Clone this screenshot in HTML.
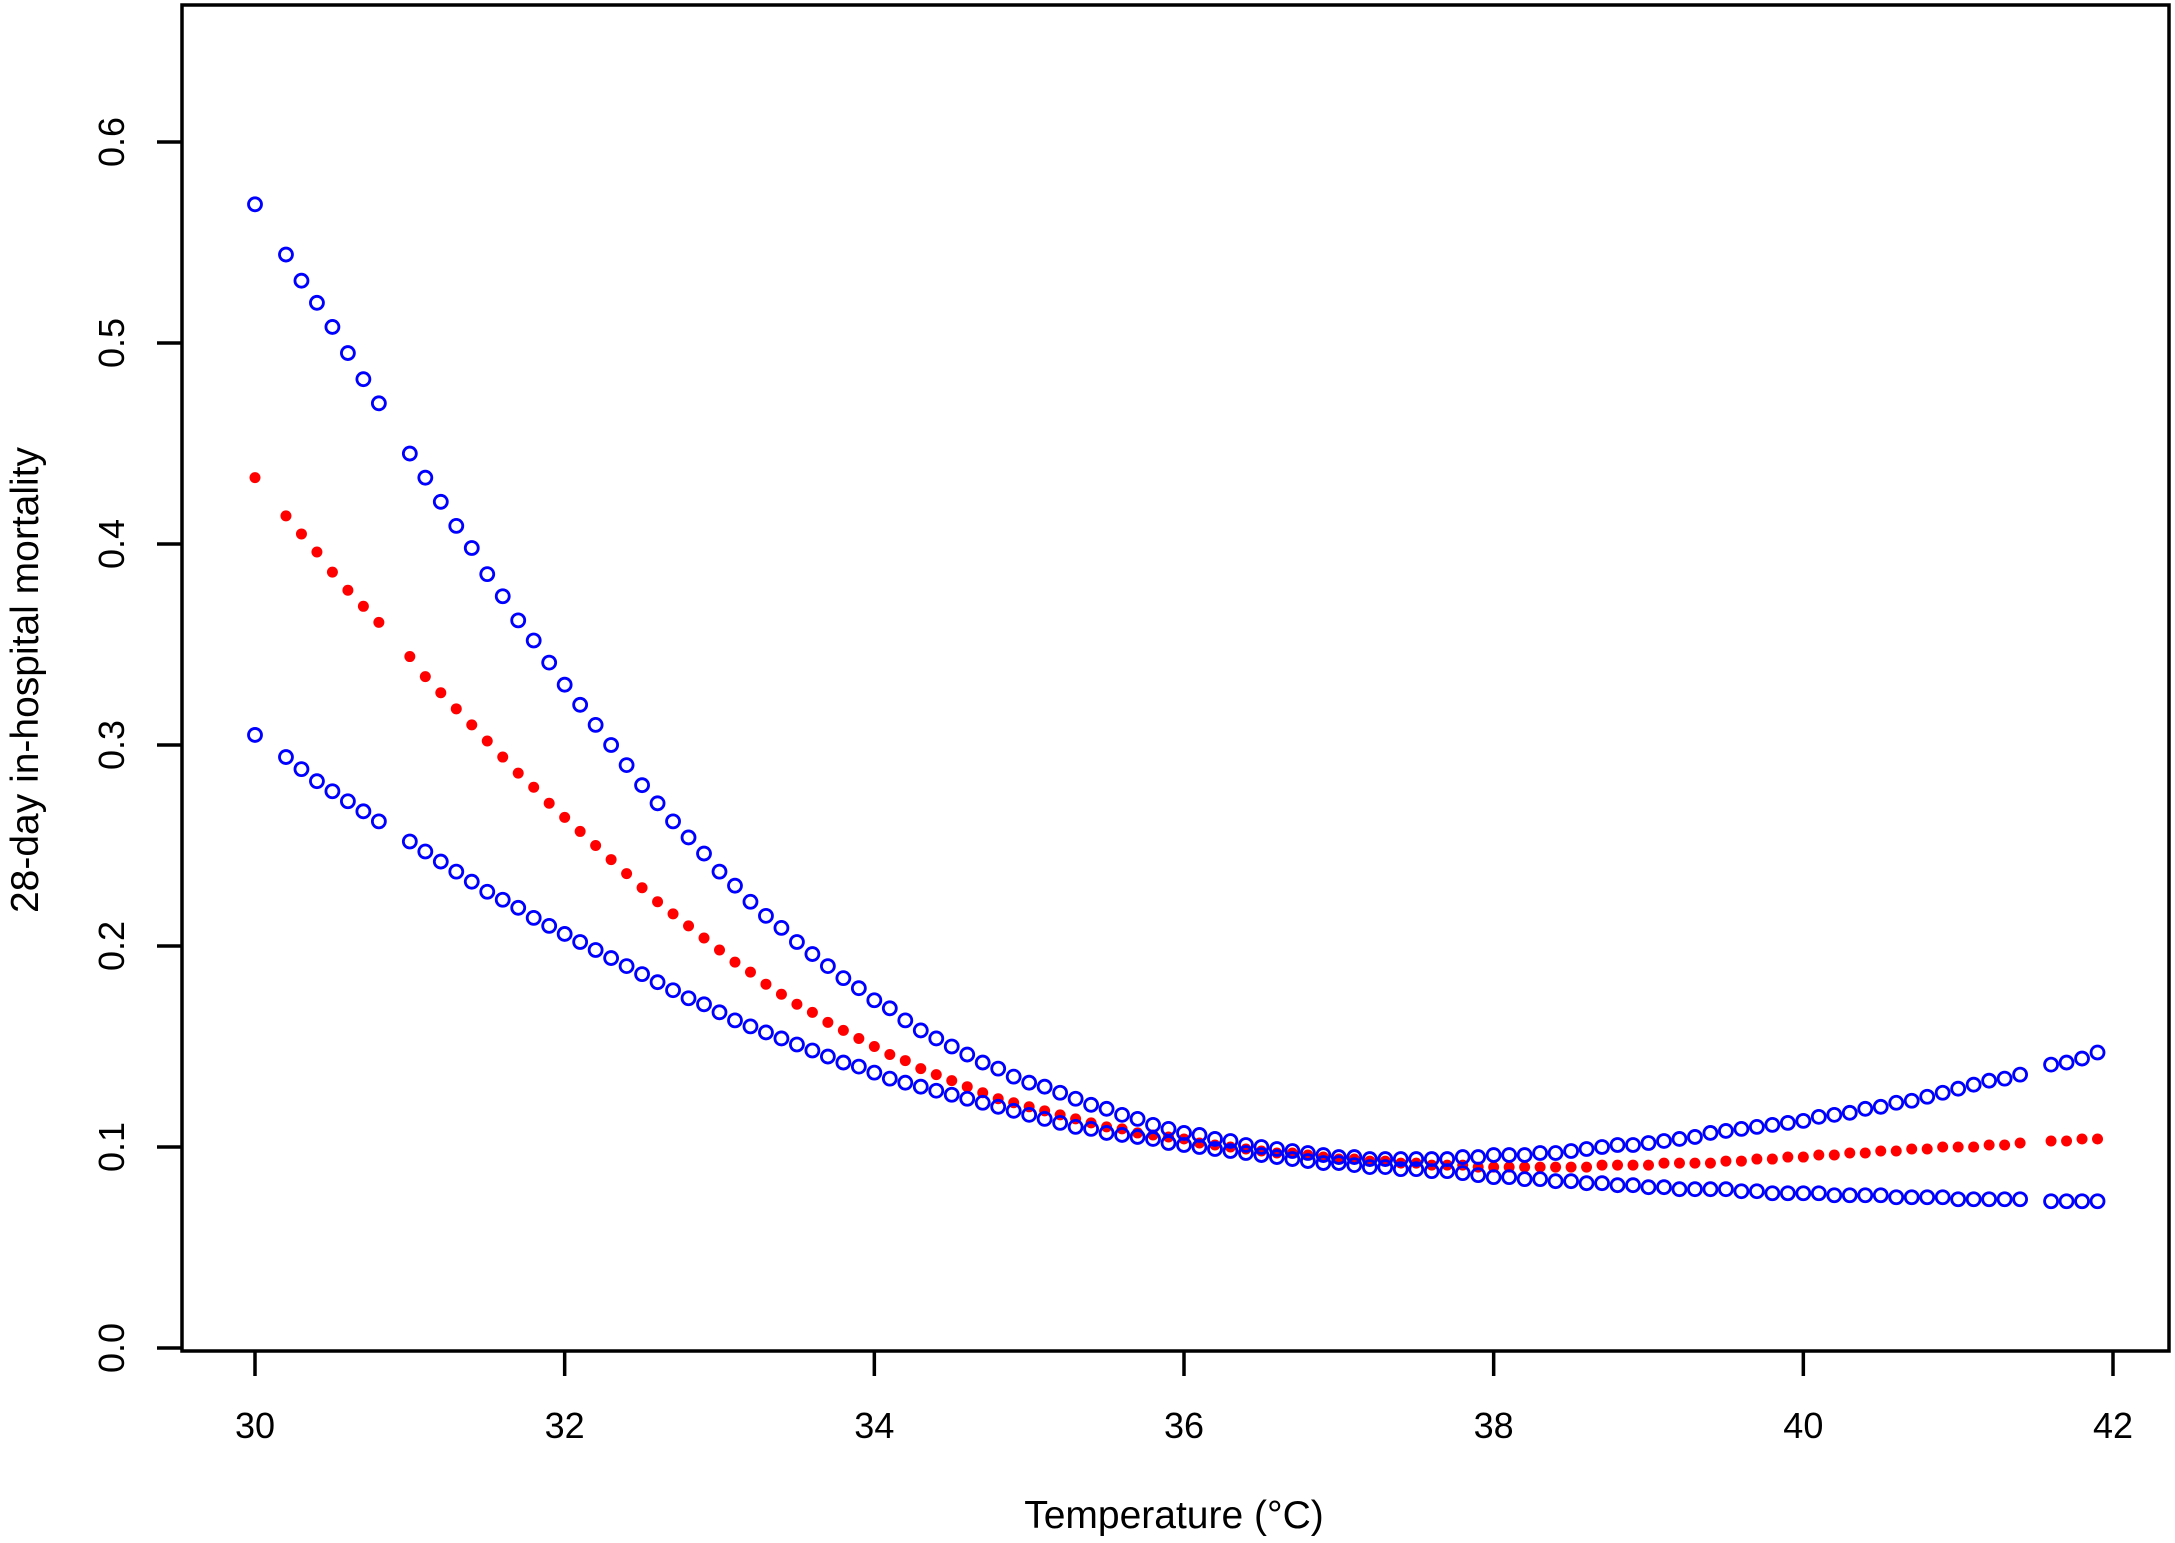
<!DOCTYPE html>
<html><head><meta charset="utf-8"><style>
html,body{margin:0;padding:0;background:#fff;}
svg text{font-family:"Liberation Sans",Arial,sans-serif;}
</style></head><body>
<svg id="chart" width="2175" height="1538" viewBox="0 0 2175 1538" xmlns="http://www.w3.org/2000/svg">
<rect x="182" y="5" width="1987" height="1346" fill="none" stroke="#000" stroke-width="3.5"/>
<g id="marks"></g>
<g id="axes"></g>
<text x="1174" y="1528" font-size="39" text-anchor="middle">Temperature (°C)</text>
<text transform="translate(38,680) rotate(-90)" font-size="39" text-anchor="middle">28-day in-hospital mortality</text>
</svg>
<script>
const xPre = [30,30.2,30.3,30.4,30.5,30.6,30.7,30.8,31.0,31.1,31.2,31.3,31.4,31.5,31.6,31.7,31.8,31.9,32.0,32.1,32.2,32.3,32.4,32.5,32.6,32.7,32.8,32.9];
const xMid = [];
for (let i = 0; i <= 84; i++) xMid.push(+(33 + i * 0.1).toFixed(1));
const xPost = [41.6,41.7,41.8,41.9];
const temps = xPre.concat(xMid, xPost);

const upperCI = [0.569,0.544,0.531,0.520,0.508,0.495,0.482,0.470,
0.445,0.433,0.421,0.409,0.398,0.385,0.374,0.362,0.352,0.341,0.330,0.320,0.310,0.300,0.290,0.280,0.271,0.262,0.254,0.246,
0.237,0.230,0.222,0.215,0.209,0.202,0.196,0.190,0.184,0.179,
0.173,0.169,0.163,0.158,0.154,0.150,0.146,0.142,0.139,0.135,
0.132,0.130,0.127,0.124,0.121,0.119,0.116,0.114,0.111,0.109,
0.107,0.106,0.104,0.103,0.101,0.100,0.099,0.098,0.097,0.096,
0.095,0.095,0.094,0.094,0.094,0.094,0.094,0.094,0.095,0.095,
0.096,0.096,0.096,0.097,0.097,0.098,0.099,0.100,0.101,0.101,
0.102,0.103,0.104,0.105,0.107,0.108,0.109,0.110,0.111,0.112,
0.113,0.115,0.116,0.117,0.119,0.120,0.122,0.123,0.125,0.127,
0.129,0.131,0.133,0.134,0.136,
0.141,0.142,0.144,0.147];

const lowerCI = [0.305,0.294,0.288,0.282,0.277,0.272,0.267,0.262,
0.252,0.247,0.242,0.237,0.232,0.227,0.223,0.219,0.214,0.210,0.206,0.202,0.198,0.194,0.190,0.186,0.182,0.178,0.174,0.171,
0.167,0.163,0.160,0.157,0.154,0.151,0.148,0.145,0.142,0.140,
0.137,0.134,0.132,0.130,0.128,0.126,0.124,0.122,0.120,0.118,
0.116,0.114,0.112,0.110,0.109,0.107,0.106,0.105,0.104,0.102,
0.101,0.100,0.099,0.098,0.097,0.096,0.095,0.094,0.093,0.092,
0.092,0.091,0.090,0.090,0.089,0.089,0.088,0.088,0.087,0.086,
0.085,0.085,0.084,0.084,0.083,0.083,0.082,0.082,0.081,0.081,
0.080,0.080,0.079,0.079,0.079,0.079,0.078,0.078,0.077,0.077,
0.077,0.077,0.076,0.076,0.076,0.076,0.075,0.075,0.075,0.075,
0.074,0.074,0.074,0.074,0.074,
0.073,0.073,0.073,0.073];

const fitted = [0.433,0.414,0.405,0.396,0.386,0.377,0.369,0.361,
0.344,0.334,0.326,0.318,0.310,0.302,0.294,0.286,0.279,0.271,0.264,0.257,0.250,0.243,0.236,0.229,0.222,0.216,0.210,0.204,
0.198,0.192,0.187,0.181,0.176,0.171,0.167,0.162,0.158,0.154,
0.150,0.146,0.143,0.139,0.136,0.133,0.130,0.127,0.124,0.122,
0.120,0.118,0.116,0.114,0.112,0.110,0.109,0.107,0.106,0.105,
0.104,0.102,0.101,0.100,0.099,0.098,0.097,0.097,0.096,0.095,
0.094,0.094,0.093,0.093,0.092,0.092,0.091,0.091,0.091,0.090,
0.090,0.090,0.090,0.090,0.090,0.090,0.090,0.091,0.091,0.091,
0.091,0.092,0.092,0.092,0.092,0.093,0.093,0.094,0.094,0.095,
0.095,0.096,0.096,0.097,0.097,0.098,0.098,0.099,0.099,0.100,
0.100,0.100,0.101,0.101,0.102,
0.103,0.103,0.104,0.104];

const xTicks = [30,32,34,36,38,40,42];
const yTicks = [0.0,0.1,0.2,0.3,0.4,0.5,0.6];
const yTickLabels = ["0.0","0.1","0.2","0.3","0.4","0.5","0.6"];

const NS = "http://www.w3.org/2000/svg";
function xScale(v){ return 255 + (v - 30) * (2113 - 255) / 12; }
function yScale(v){ return 1348 - v * (1348 - 142) / 0.6; }
function mk(tag, attrs, parent){
  const e = document.createElementNS(NS, tag);
  for (const k in attrs) e.setAttribute(k, attrs[k]);
  parent.appendChild(e);
  return e;
}
const marks = document.getElementById('marks');
const axes = document.getElementById('axes');

fitted.forEach((v, i) => {
  const c = mk('circle', {cx: xScale(temps[i]), cy: yScale(v), r: 5.5, fill: '#ff0000'}, marks);
  
  
});
upperCI.forEach((v, i) => {
  const c = mk('circle', {cx: xScale(temps[i]), cy: yScale(v), r: 6.5, fill: 'none', stroke: '#0000ff', 'stroke-width': 2.8}, marks);
  
  
});
lowerCI.forEach((v, i) => {
  const c = mk('circle', {cx: xScale(temps[i]), cy: yScale(v), r: 6.5, fill: 'none', stroke: '#0000ff', 'stroke-width': 2.8}, marks);
  
  
});

xTicks.forEach(t => {
  const x = xScale(t);
  const l = mk('line', {x1: x, y1: 1351, x2: x, y2: 1376, stroke: '#000', 'stroke-width': 3.5}, axes);
  
  
  const tx = mk('text', {x: x, y: 1438, 'font-size': 36, 'text-anchor': 'middle'}, axes);
  tx.textContent = String(t);
  
  
});
yTicks.forEach((t, i) => {
  const y = yScale(t);
  const l = mk('line', {x1: 157, y1: y, x2: 182, y2: y, stroke: '#000', 'stroke-width': 3.5}, axes);
  
  
  const tx = mk('text', {transform: 'translate(124,' + y + ') rotate(-90)', 'font-size': 36, 'text-anchor': 'middle'}, axes);
  tx.textContent = yTickLabels[i];
  
  
});
</script>
</body></html>
